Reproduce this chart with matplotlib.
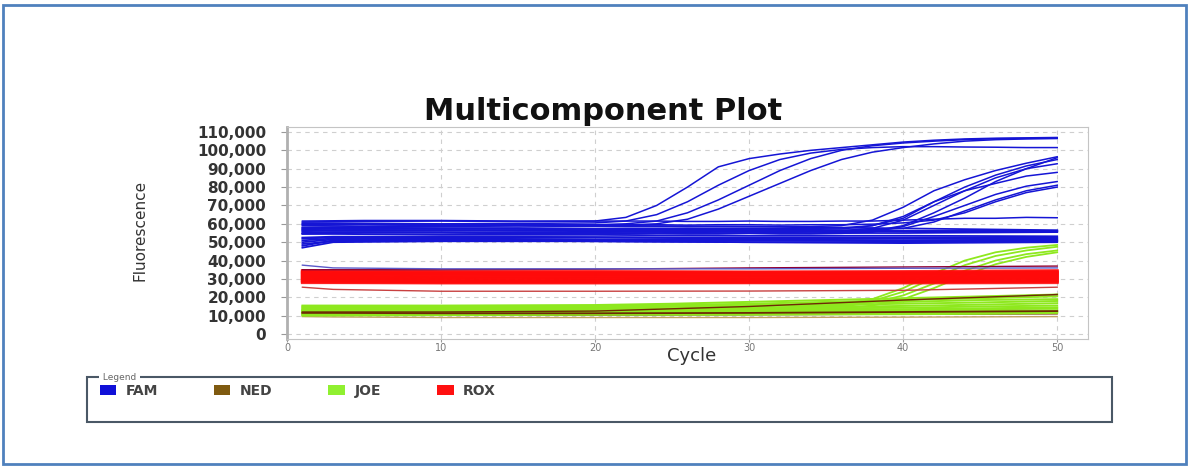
import matplotlib.pyplot as plt
from matplotlib.patches import Patch, Rectangle

# cycles used by each group of curves
amp_cycles = [1, 5, 10, 15, 20, 22, 24, 26, 28, 30, 32, 34, 36, 38, 40, 42, 44, 46, 48, 50]
flat_cycles = [1, 3, 10, 20, 30, 40, 50]
joe_cycles = [1, 10, 20, 25, 30, 35, 40, 45, 50]
joe_amp_cycles = [1, 10, 20, 30, 34, 36, 38, 40, 42, 44, 46, 48, 50]

# FAM (values in thousands)
fam_amp = [
    [61, 61.3, 61.5, 61.2, 61.5, 63.5, 70, 80, 91, 95.5, 98, 100, 101.5, 103, 104.5, 105.5, 106.2, 106.6, 106.8, 107],
    [60.5, 60.3, 60, 60.2, 60.5, 61.5, 65, 72, 81, 89, 95, 98.5, 100.5, 101.5, 102, 102, 101.8, 101.7, 101.5, 101.5],
    [59.5, 59.8, 59.5, 59.5, 59.5, 60, 61.5, 66, 73, 81, 89, 95.5, 100, 102.5, 104, 105, 105.8, 106.3, 106.5, 106.5],
    [59, 58.8, 59, 59.2, 59, 59.3, 60, 62.5, 68, 75, 82, 89, 95, 99, 101.5, 103.5, 105, 105.8, 106.2, 106.5],
    [58, 58.5, 58.5, 58.3, 58.5, 58.5, 58.5, 58.3, 58.5, 58.5, 58.5, 58.5, 59, 62, 69, 78, 84, 89, 93, 96.5],
    [57, 57.5, 57.3, 57.5, 57, 57, 57.2, 57, 57, 57.3, 57, 57, 57.2, 59, 64, 72, 80, 86.5, 91.5, 95],
    [56, 56.3, 56.5, 56.2, 56, 56, 56.2, 56, 56.3, 56, 56, 56.2, 56.3, 57.5, 62, 70, 78, 85, 90, 92.7],
    [55, 55.5, 55.3, 55, 55.2, 55, 55, 55.3, 55, 55, 55.2, 55, 55.2, 56, 59, 66, 74, 83, 90, 96],
    [57.5, 57.8, 57.5, 57.5, 57.3, 57.5, 57.5, 57.3, 57.5, 57.5, 57.3, 57.5, 57.8, 59, 63, 72, 78, 82, 86, 88],
    [54.5, 55, 55, 54.8, 54.5, 54.5, 54.8, 54.5, 54.5, 54.8, 54.5, 54.5, 54.8, 55.5, 58.5, 64, 70, 76, 80.5, 83],
    [56.5, 56.8, 56.5, 56.3, 56.5, 56.3, 56.5, 56.5, 56.3, 56.5, 56.5, 56.3, 56.5, 56.8, 57.5, 61, 67, 73, 78, 81],
    [59.5, 59.8, 59.5, 59.5, 59.3, 59.5, 59.5, 59.3, 59.5, 59.5, 59.3, 59.5, 59.5, 59.8, 60.5, 62, 66, 72, 77, 80],
    [61.5, 61.8, 61.8, 61.5, 61.5, 61.5, 61.5, 61.3, 61.3, 61.5, 61.3, 61.3, 61.5, 61.5, 62, 62.5, 63, 63, 63.5, 63.3],
]
fam_flat = [
    [57, 57.5, 57.5, 57, 56.5, 56, 56],
    [58, 58, 57.5, 57, 56.5, 56, 55.8],
    [60, 60, 59.5, 59, 58.5, 57.5, 56.5],
    [56, 56.5, 56.5, 56, 56, 56, 56.2],
    [55, 55.5, 55.5, 55, 55, 55, 55.5],
    [54.5, 54.5, 54, 54, 53.5, 53.5, 53.2],
    [52.5, 53, 53, 52.8, 52.5, 52.5, 52.5],
    [52, 52.5, 52.5, 52.5, 52, 52, 52],
    [51, 52, 52, 51.5, 51.5, 51, 51.5],
    [48, 51, 51.5, 51, 51, 51, 51],
    [47, 50, 50.5, 50.5, 50, 50, 50.5],
    [49, 50.5, 51, 50.5, 50, 49.5, 50],
    [50, 51.5, 51.5, 51.3, 51, 50.5, 50.8],
]
fam_low = [37.5, 36, 35.5, 35.5, 35.5, 35.8, 36]

# ROX
rox_flat = [
    [34.5, 34.3, 34, 34, 33.8, 34, 34.5],
    [34, 33.8, 33.5, 33.6, 33.5, 33.5, 34],
    [33.5, 33.2, 33, 33, 33.2, 33, 33.5],
    [33, 32.8, 32.6, 32.5, 32.5, 32.7, 33],
    [32.5, 32.3, 32, 32.2, 32, 32, 32.5],
    [32, 31.8, 31.5, 31.5, 31.6, 31.5, 32],
    [31.5, 31.3, 31, 31.2, 31, 31, 31.5],
    [31, 30.8, 30.5, 30.5, 30.6, 30.5, 31],
    [30.5, 30.3, 30, 30, 30, 30.2, 30.5],
    [30, 29.8, 29.5, 29.6, 29.5, 29.5, 30],
    [29.5, 29.3, 29, 29, 29.2, 29, 29.5],
    [29, 28.8, 28.5, 28.6, 28.5, 28.5, 29],
    [28.5, 28.3, 28.2, 28.2, 28.2, 28.3, 28.5],
    [28, 28, 27.8, 27.8, 27.9, 27.8, 28],
]
rox_low = [25.5, 24.3, 23.3, 23.3, 23.4, 23.8, 25.5]
rox_top = [35, 35, 35, 35.3, 36, 36.5, 37]

# NED
ned_flat = [
    [12, 12, 12, 12, 12.5, 13, 14],
    [11.5, 11.5, 11.3, 11.3, 11.5, 12, 12.5],
    [11, 11, 11, 11, 11, 11.3, 11.5],
    [10.5, 10.5, 10.3, 10.3, 10.5, 10.8, 11],
    [12, 12, 12, 12.5, 15, 18.5, 21.5],
]
ned_tan = [9.5, 9.3, 9, 9, 9, 9.2, 9.5]

# JOE
joe_flat = [
    [15.5, 15.5, 15.8, 16.5, 17.5, 18.5, 19.5, 20.5, 21.5],
    [15, 15, 15.2, 15.8, 16.5, 17.5, 18.5, 19.5, 20.5],
    [14.5, 14.6, 14.8, 15.2, 15.8, 16.5, 17.5, 18.5, 19],
    [14, 14.2, 14.5, 14.8, 15.2, 15.8, 16.5, 17.2, 18],
    [13.5, 13.6, 13.8, 14, 14.3, 14.8, 15.3, 16, 16.8],
    [13, 13.2, 13.3, 13.5, 13.6, 14, 14.3, 15, 15.5],
    [12.5, 12.6, 12.8, 13, 13, 13.2, 13.5, 14, 14.5],
    [12, 12.3, 12.5, 12.5, 12.7, 12.8, 13, 13.5, 14],
    [11.5, 11.8, 12, 12, 12, 12, 12.3, 12.5, 13],
    [11, 11.3, 11.5, 11.5, 11.5, 11.7, 11.8, 12, 12.5],
    [10.5, 10.8, 11, 11, 11, 11.2, 11.3, 11.5, 12],
    [10, 10.3, 10.5, 10.5, 10.5, 10.7, 10.8, 11, 11.5],
]
joe_amp = [
    [13, 13, 13.5, 14, 15, 16, 19, 25, 33, 40, 44.5, 47, 48.5],
    [12.5, 13, 13, 13.5, 14.5, 15.5, 18, 23, 30.5, 37.5, 42.5, 45.5, 47.5],
    [12.5, 12.5, 12.5, 13, 14, 15, 17, 21, 27.5, 34.5, 40, 43.5, 45.5],
    [12, 12, 12.5, 13, 13.5, 14, 15.5, 19, 25, 32, 38, 42, 44.5],
]

legend_labels = ["FAM", "NED", "JOE", "ROX"]
legend_colors = ["#1010d8", "#7f5a10", "#90f030", "#ff1010"]

FAM_C = "#1515d5"
NED_C = "#6e2a05"
JOE_C = "#8ee81e"
ROX_C = "#ff0a0a"


def k(vals):
    return [v * 1000 for v in vals]


W, H = 1190, 467
fig = plt.figure(figsize=(W / 100, H / 100), dpi=100)
ax = fig.add_axes([287 / W, 1 - 339 / H, (1088 - 287) / W, (339 - 127) / H])

# brown under green, red drawn slightly transparent over the green
for ys in ned_flat:
    ax.plot(flat_cycles, k(ys), color=NED_C, lw=1.0)
ax.plot(flat_cycles, k(ned_tan), color="#c0a060", lw=1.0)
for ys in joe_flat:
    ax.plot(joe_cycles, k(ys), color=JOE_C, lw=1.4)
for ys in joe_amp:
    ax.plot(joe_amp_cycles, k(ys), color=JOE_C, lw=1.3)
ax.plot(flat_cycles, k(ned_flat[1]), color=NED_C, lw=1.3)
ax.plot(flat_cycles, k(ned_flat[-1]), color=NED_C, lw=1.0)

for ys in rox_flat:
    ax.plot(flat_cycles, k(ys), color=ROX_C, lw=2.2, alpha=0.85)
ax.plot(flat_cycles, k(rox_low), color="#c84040", lw=1.0)
ax.plot(flat_cycles, k(rox_top), color="#900030", lw=1.0)
ax.plot(flat_cycles, k(fam_low), color="#5a5ac8", lw=1.0)

for ys in fam_flat:
    ax.plot(flat_cycles, k(ys), color=FAM_C, lw=1.3)
for ys in fam_amp:
    ax.plot(amp_cycles, k(ys), color=FAM_C, lw=1.1)

ax.set_xlim(0, 52)
ax.set_ylim(-2700, 112700)
ax.set_xticks(range(0, 51, 10))
ax.set_yticks(range(0, 110001, 10000))
ax.set_yticklabels([f"{v:,}" for v in range(0, 110001, 10000)])
ax.grid(True, color="#cfcfcf", ls=(0, (4, 4)), lw=0.8)
ax.set_axisbelow(True)
for s in ax.spines.values():
    s.set_color("#c4c4c4")
ax.spines["left"].set_linewidth(2)
ax.spines["left"].set_color("#b0b0b0")
ax.tick_params(axis="y", colors="#999999", length=4, pad=11, labelsize=11,
               labelcolor="#333333")
ax.tick_params(axis="x", colors="#999999", length=2, pad=1, labelsize=7,
               labelcolor="#777777")
for t in ax.get_yticklabels():
    t.set_fontweight("bold")

fig.text(692 / W, 1 - 356 / H, "Cycle", fontsize=13, color="#333333",
         ha="center", va="center")
fig.text(140 / W, 1 - 230 / H, "Fluorescence", rotation=90, fontsize=11,
         color="#333333", ha="center", va="center")
fig.text(603 / W, 1 - 112 / H, "Multicomponent Plot", fontsize=22,
         fontweight="heavy", ha="center", va="center", color="#111111")

# legend box
fig.add_artist(Rectangle((87 / W, 1 - 422 / H), (1112 - 87) / W, 45 / H,
                         transform=fig.transFigure, fill=False,
                         edgecolor="#4a5866", lw=1.5))
fig.text(100 / W, 1 - 377 / H, " Legend ", fontsize=6.5, color="#666666",
         va="center", ha="left",
         bbox=dict(facecolor="white", edgecolor="none", pad=0.5))
handles = [Patch(facecolor=c, edgecolor="none", label=l)
           for l, c in zip(legend_labels, legend_colors)]
leg = fig.legend(handles=handles, loc="center left",
                 bbox_to_anchor=(87 / W, 1 - 391 / H), ncol=4, frameon=False,
                 handlelength=1.2, handleheight=0.75, handletextpad=0.7,
                 columnspacing=4.0, prop=dict(size=10, weight="bold"))
for t in leg.get_texts():
    t.set_color("#444444")

# outer blue frame
fig.add_artist(Rectangle((3 / W, 1 - 464 / H), 1183 / W, 459 / H,
                         transform=fig.transFigure, fill=False,
                         edgecolor="#4f81bd", lw=2))

fig.savefig("out.png", dpi=100)
